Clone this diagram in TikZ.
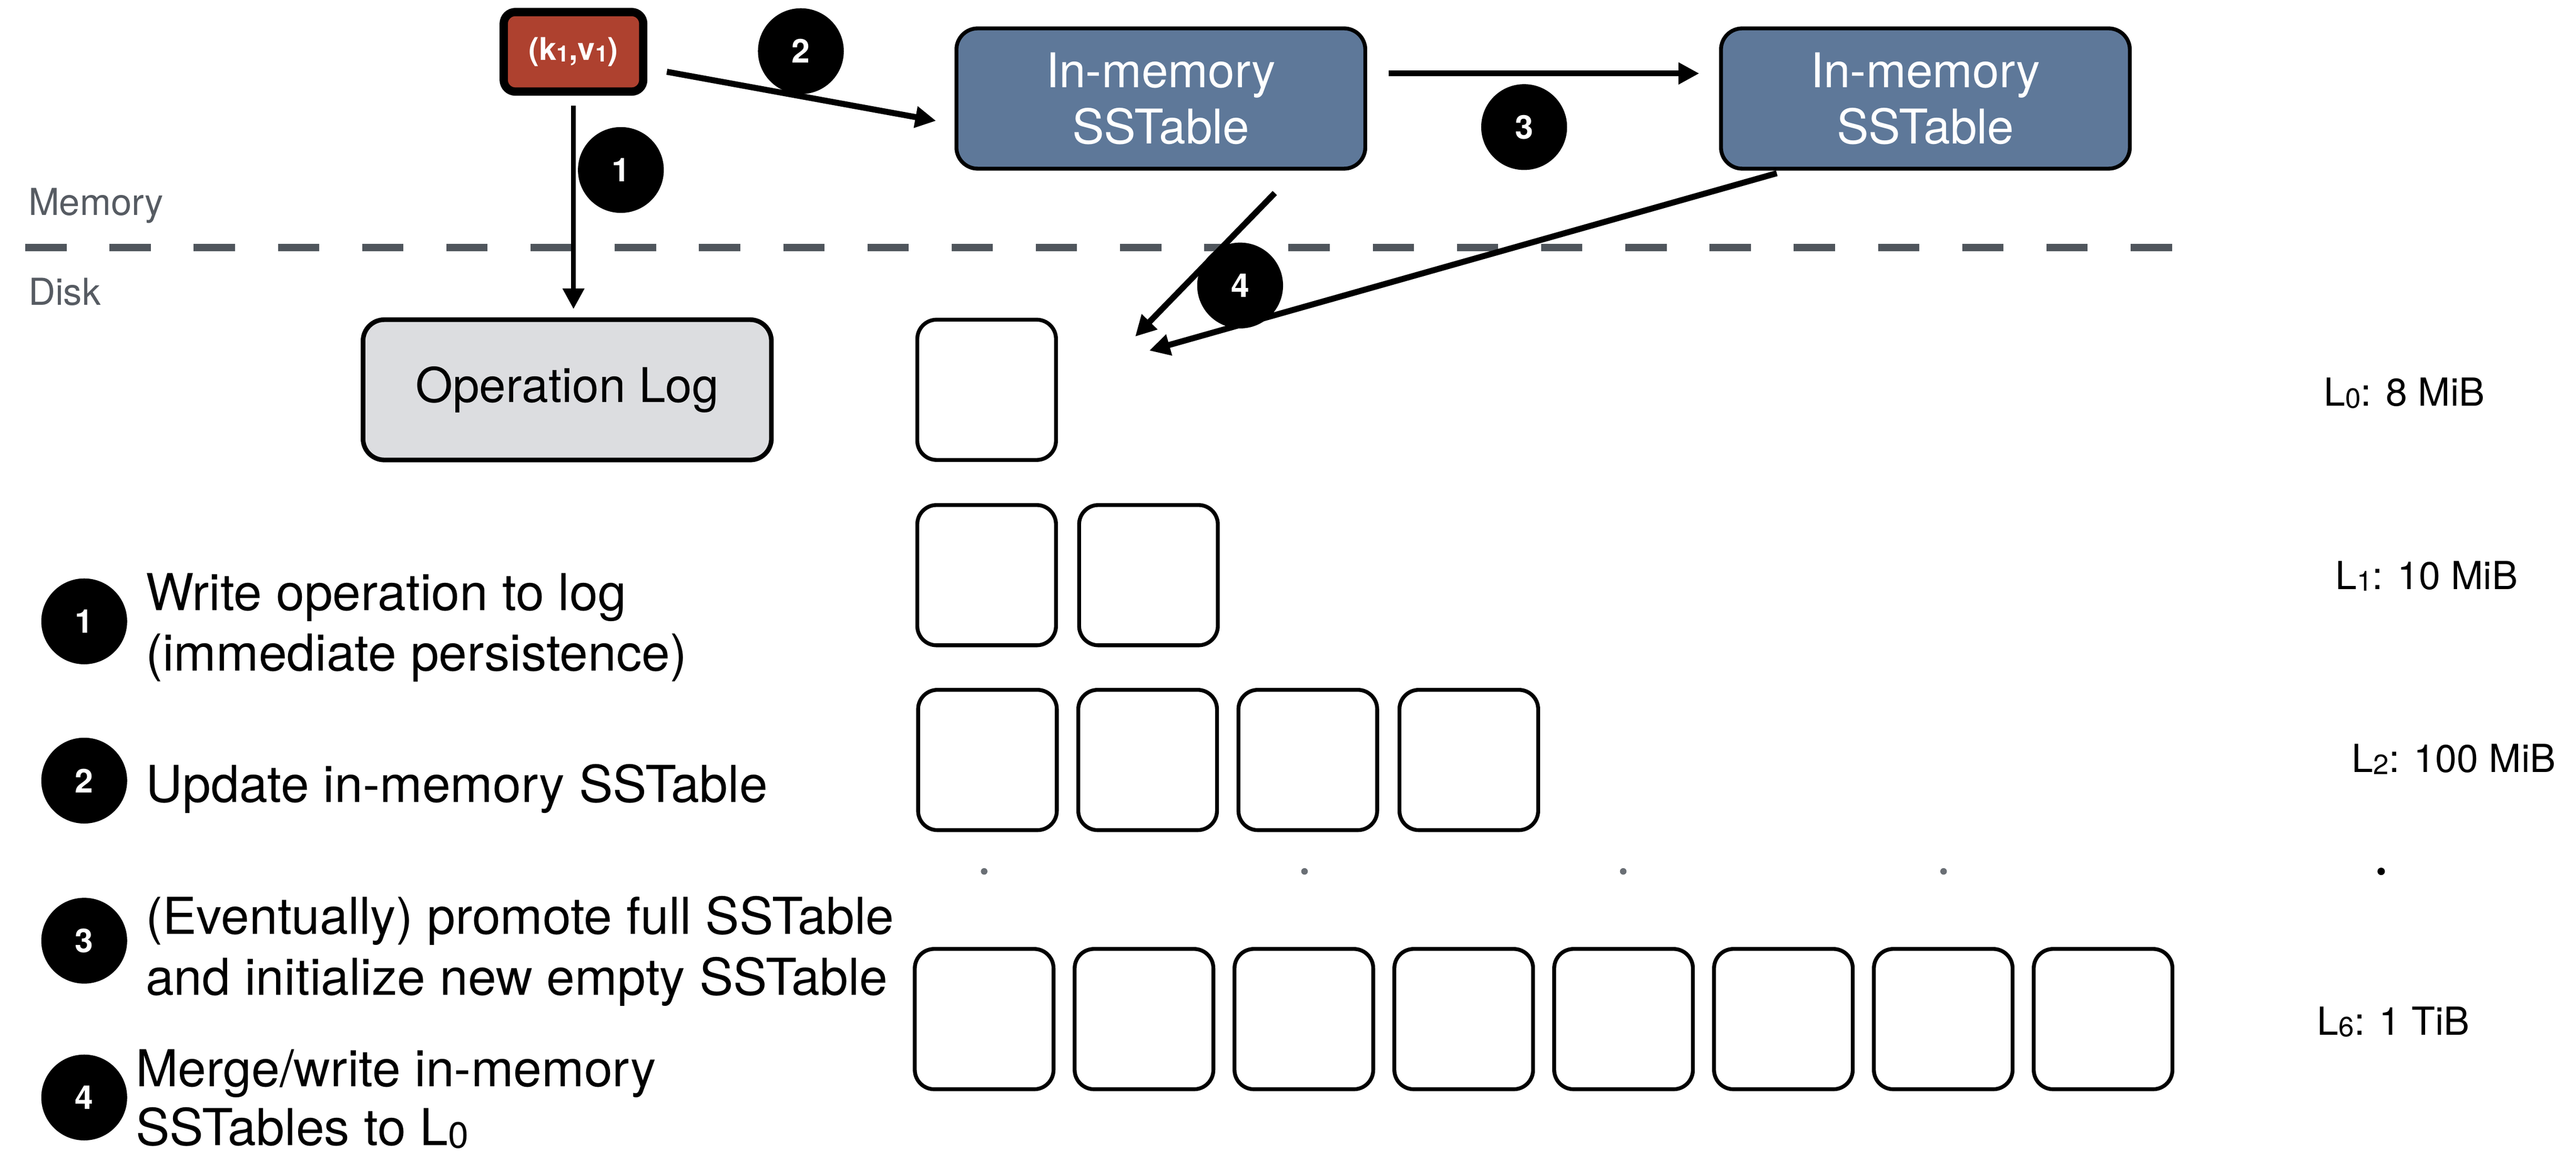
\documentclass[tikz,border=0pt]{standalone}
\usepackage{fontspec}
\setmainfont{TeX Gyre Heros}
\usetikzlibrary{arrows.meta,calc,shadows}
\newlength\pxu
\setlength\pxu{0.03cm}
\newcommand\lsub[1]{\raisebox{-0.05em}{\scalebox{0.72}{#1}}}
\definecolor{redfill}{HTML}{AE412F}
\definecolor{bluefill}{HTML}{5E7899}
\definecolor{logfill}{HTML}{DCDDE0}
\definecolor{dashgray}{HTML}{4F555C}
\definecolor{labelgray}{HTML}{565B62}
\definecolor{dotgray}{HTML}{6A6F75}
\begin{document}
\begin{tikzpicture}[x=0.03cm,y=-0.03cm,
  lbox/.style={draw=black,line width=2pt,rounded corners=10pt,minimum width=84\pxu,minimum height=85\pxu,inner sep=0pt,fill=white},
  membox/.style={draw=black,line width=2pt,rounded corners=11pt,fill=bluefill,text=white,minimum width=247.6\pxu,minimum height=85\pxu,align=center,font=\fontsize{24.75}{29}\selectfont,inner sep=0pt},
  logbox/.style={draw=black,line width=2.4pt,rounded corners=11pt,fill=logfill,minimum width=247.3\pxu,minimum height=85\pxu,font=\fontsize{24.75}{29}\selectfont,inner sep=0pt},
  kvbox/.style={draw=black,line width=4.27pt,rounded corners=6pt,fill=redfill,text=white,minimum width=84.5\pxu,minimum height=48.2\pxu,font=\bfseries\fontsize{16.2}{19}\selectfont,inner sep=0pt,drop shadow={shadow xshift=0pt,shadow yshift=-2pt,opacity=0.25}},
  num/.style={circle,fill=black,text=white,minimum size=52\pxu,inner sep=0pt,font=\bfseries\fontsize{17}{20}\selectfont},
  arr/.style={line width=3.1pt,-{Triangle[length=10.7pt,width=10.7pt]}},
  legend/.style={anchor=base west,inner sep=0pt,font=\fontsize{26.3}{31}\selectfont},
  lvl/.style={anchor=base west,inner sep=0pt,font=\fontsize{20}{24}\selectfont},
  side/.style={anchor=base west,inner sep=0pt,text=labelgray,font=\fontsize{19.2}{23}\selectfont},
  dot/.style={circle,inner sep=0pt,minimum size=4\pxu,fill=dotgray}
]
\useasboundingbox (0,0) rectangle (1560,698.6);

% memory / disk separator
\draw[dashgray,line width=3.7pt,dash pattern=on 25\pxu off 26\pxu] (15.3,150) -- (1316,150);
\node[side] (mem) at (17,130.3) {Memory};
\node[side] (disk) at (17,185) {Disk};

% top nodes
\node[kvbox] (kv) at (347.3,31.4) {(k\lsub{1},v\lsub{1})};
\node[membox] (m1) at (703,59.7) {In-memory\\SSTable};
\node[membox] (m2) at (1166,59.7) {In-memory\\SSTable};
\node[logbox] (log) at (343.5,236.2) {Operation Log};

% level boxes
\node[lbox] (l0a) at (597.5,236.2) {};
\foreach \i/\x in {a/597.5,b/695.5} \node[lbox] (l1\i) at (\x,348.5) {};
\foreach \i/\x in {a/598,b/695,c/792,d/889.5} \node[lbox] (l2\i) at (\x,460.5) {};
\foreach \i/\x in {a/596,b/692.8,c/789.6,d/886.4,e/983.2,f/1080,g/1176.8,h/1273.6} \node[lbox] (l6\i) at (\x,617.5) {};

% dots
\foreach \i/\x in {a/596,b/790,c/983,d/1177} \node[dot] (dot\i) at (\x,528) {};
\node[dot,fill=black,minimum size=4.5\pxu] (dote) at (1442,528) {};

% level labels
\node[lvl] (lab0) at (1407,246) {L\lsub{0}: 8 MiB};
\node[lvl] (lab1) at (1414,357) {L\lsub{1}: 10 MiB};
\node[lvl] (lab2) at (1424,468) {L\lsub{2}: 100 MiB};
\node[lvl] (lab6) at (1403,627) {L\lsub{6}: 1 TiB};

% arrow end coordinates
\coordinate (t4a) at ($(l0a.north east)+(46.8,11.4)$);
\coordinate (t4b) at ($(l0a.north east)+(55.3,19.9)$);

% arrows
\draw[arr,line width=2.6pt] ($(kv.south)+(0,6)$) -- ($(kv.south |- log.north)+(0,-5)$);
\draw[arr] ($(kv.east)+(11.8,12.1)$) -- ($(m1.west)+(-11.2,13.5)$);
\draw[arr] ($(m1.east)+(13,-15.2)$) -- ($(m2.west)+(-12,-15.2)$);
\draw[arr] ($(m1.south)+(69,13.6)$) -- (t4a);
\draw[arr] ($(m2.south)+(-90,1.6)$) -- (t4b);

% step markers
\node[num] (c1) at (376,103) {1};
\node[num] (c2) at (485,31) {2};
\node[num] (c3) at (923,77) {3};
\node[num] (c4) at (751,173) {4};

% legend
\node[num] (g1) at (51,376.5) {1};
\node[num] (g2) at (51,473) {2};
\node[num] (g3) at (51,570) {3};
\node[num] (g4) at (51,665) {4};
\node[legend] (g1a) at (88,370) {Write operation to log};
\node[legend] (g1b) at (88,406.5) {(immediate persistence)};
\node[legend] (g2a) at (88,486) {Update in-memory SSTable};
\node[legend] (g3a) at (88,566) {(Eventually) promote full SSTable};
\node[legend] (g3b) at (88,603) {and initialize new empty SSTable};
\node[legend] (g4a) at (82,658.5) {Merge/write in-memory};
\node[legend] (g4b) at (82,694) {SSTables to L\lsub{0}};
\end{tikzpicture}
\end{document}
